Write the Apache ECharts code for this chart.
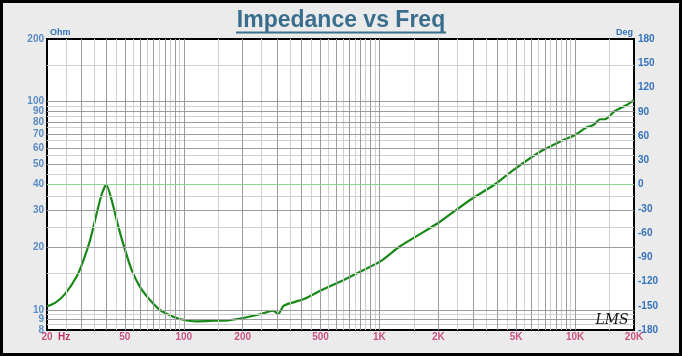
<!DOCTYPE html>
<html><head><meta charset="utf-8">
<script src="https://cdn.jsdelivr.net/npm/echarts@6/dist/echarts.min.js"></script>
<style>html,body{margin:0;padding:0;background:#ebebeb}#c{width:682px;height:356px}</style>
</head><body><div id="c"></div><script>
// Impedance curve (Hz, Ohm)
const freqHz = [20, 22, 24.7, 28.4, 30.7, 33.2, 35.9, 38.1, 40.2, 42.8, 46.3, 50.1, 54.2, 59.7, 67.2, 75.6, 88.4, 99.5, 116, 142, 172, 201, 245, 287, 304, 323, 349, 408, 507, 629, 796, 1007, 1274, 1612, 2040, 2904, 3898, 4834, 6620, 8710, 10000, 11460, 12400, 13400, 14230, 16000, 18370, 20000];
const impedanceOhm = [10.4, 10.8, 11.9, 14.5, 17.3, 21.6, 29.1, 36.0, 40.0, 33.7, 25.1, 19.4, 15.5, 12.9, 11.15, 9.98, 9.27, 8.96, 8.8, 8.86, 8.93, 9.14, 9.52, 9.9, 9.55, 10.43, 10.75, 11.23, 12.45, 13.65, 15.24, 17.03, 20.2, 23.1, 26.5, 33.7, 40.1, 46.95, 57.5, 65.4, 69.2, 75.3, 77.2, 82.3, 82.3, 90.4, 96.4, 102];

// Tick labels
const xTickValues = [20, 50, 100, 200, 500, 1000, 2000, 5000, 10000, 20000];
const xTickLabels = ['20', '50', '100', '200', '500', '1K', '2K', '5K', '10K', '20K'];
const yTickValues = [200, 100, 90, 80, 70, 60, 50, 40, 30, 20, 10, 9, 8];
const yTickLabels = ['200', '100', '90', '80', '70', '60', '50', '40', '30', '20', '10', '9', '8'];

// Grid lines
const xMajorGrid = [30, 40, 50, 60, 70, 80, 90, 100, 200, 300, 400, 500, 600, 700, 800, 900, 1000, 2000, 3000, 4000, 5000, 6000, 7000, 8000, 9000, 10000];
const xMinorGrid = [25, 35, 45, 55, 65, 75, 85, 95, 150, 250, 350, 450, 550, 650, 750, 850, 950, 1500, 2500, 3500, 4500, 5500, 6500, 7500, 8500, 9500, 15000];
const yMajorGrid = [100, 90, 80, 70, 60, 50, 30, 20, 10, 9];
const yMinorGrid = [150, 95, 85, 75, 65, 55, 45, 35, 25, 15, 9.5, 8.5];
const refLineOhm = 40;

const chart = echarts.init(document.getElementById('c'), null, {renderer: 'canvas'});
const BLUE = '#3473bb', RED = '#c02c68', TITLE = '#3a6e8e';
const lblFont = {fontFamily: 'Liberation Sans', fontWeight: 'bold', fontSize: 10};

const gridLines = [];
xMinorGrid.forEach(v => gridLines.push({xAxis: v, lineStyle: {color: '#d0d0d0', width: 1, type: 'solid'}}));
yMinorGrid.forEach(v => gridLines.push({yAxis: v, lineStyle: {color: '#d0d0d0', width: 1, type: 'solid'}}));
xMajorGrid.forEach(v => gridLines.push({xAxis: v, lineStyle: {color: '#9c9c9c', width: 1, type: 'solid'}}));
yMajorGrid.forEach(v => gridLines.push({yAxis: v, lineStyle: {color: '#9c9c9c', width: 1, type: 'solid'}}));
gridLines.push({yAxis: refLineOhm, lineStyle: {color: '#8fd48f', width: 1.2, type: 'solid'}});

chart.setOption({
  animation: false,
  backgroundColor: '#ebebeb',
  grid: {left: 47, right: 48, top: 39, bottom: 26, show: true, backgroundColor: '#fff', borderColor: '#000', borderWidth: 2, z: 0},
  xAxis: {type: 'log', logBase: 10, min: 20, max: 20000, axisLine: {show: false}, axisTick: {show: false}, axisLabel: {show: false}, splitLine: {show: false}},
  yAxis: [
    {type: 'log', logBase: 10, min: 8, max: 200, axisLine: {show: false}, axisTick: {show: false}, axisLabel: {show: false}, splitLine: {show: false}},
    {type: 'value', min: -180, max: 180, interval: 30, position: 'right', axisLine: {show: false}, axisTick: {show: false}, splitLine: {show: false},
     axisLabel: Object.assign({color: BLUE, margin: 4}, lblFont)}
  ],
  graphic: [
    {type: 'rect', silent: true, z: 100, shape: {x: 1.5, y: 1.5, width: 679, height: 353}, style: {fill: 'none', stroke: '#000', lineWidth: 3}},
    {type: 'text', x: 341, y: 20.5, z: 10, style: {text: 'Impedance vs Freq', fill: TITLE, font: 'bold 23px "Liberation Sans"', align: 'center', verticalAlign: 'middle'}},
    {type: 'line', z: 10, shape: {x1: 236, y1: 32.5, x2: 446, y2: 32.5}, style: {stroke: TITLE, lineWidth: 2}},
    {type: 'text', x: 50, y: 32.5, z: 10, style: {text: 'Ohm', fill: BLUE, font: 'bold 9px "Liberation Sans"', align: 'left', verticalAlign: 'middle'}},
    {type: 'text', x: 633, y: 32.5, z: 10, style: {text: 'Deg', fill: BLUE, font: 'bold 9px "Liberation Sans"', align: 'right', verticalAlign: 'middle'}},
    {type: 'text', x: 58, y: 337.5, z: 10, style: {text: 'Hz', fill: RED, font: 'bold 10px "Liberation Sans"', align: 'left', verticalAlign: 'middle'}},
    {type: 'text', x: 612, y: 320, z: 10, style: {text: 'LMS', fill: '#111', font: 'italic 14px "DejaVu Serif"', align: 'center', verticalAlign: 'middle'}}
  ],
  series: [
    {type: 'line', data: [[20, 8]], symbol: 'none', lineStyle: {opacity: 0}, silent: true, z: 1,
     markLine: {silent: true, symbol: 'none', label: {show: false}, animation: false, data: gridLines}},
    {type: 'scatter', silent: true, clip: false, symbolSize: 0, z: 5,
     data: xTickValues.map((v, i) => ({value: [v, 8], label: {formatter: xTickLabels[i]}})),
     label: Object.assign({show: true, position: 'bottom', distance: 2, color: RED}, lblFont)},
    {type: 'scatter', silent: true, clip: false, symbolSize: 0, z: 5,
     data: yTickValues.map((v, i) => ({value: [20, v], label: {formatter: yTickLabels[i]}})),
     label: Object.assign({show: true, position: 'left', distance: 3, color: BLUE}, lblFont)},
    {type: 'line', name: 'Impedance', data: freqHz.map((f, i) => [f, impedanceOhm[i]]), symbol: 'none', smooth: 0.2,
     lineStyle: {color: '#158815', width: 2.2}, z: 4, clip: true}
  ]
});
</script></body></html>
